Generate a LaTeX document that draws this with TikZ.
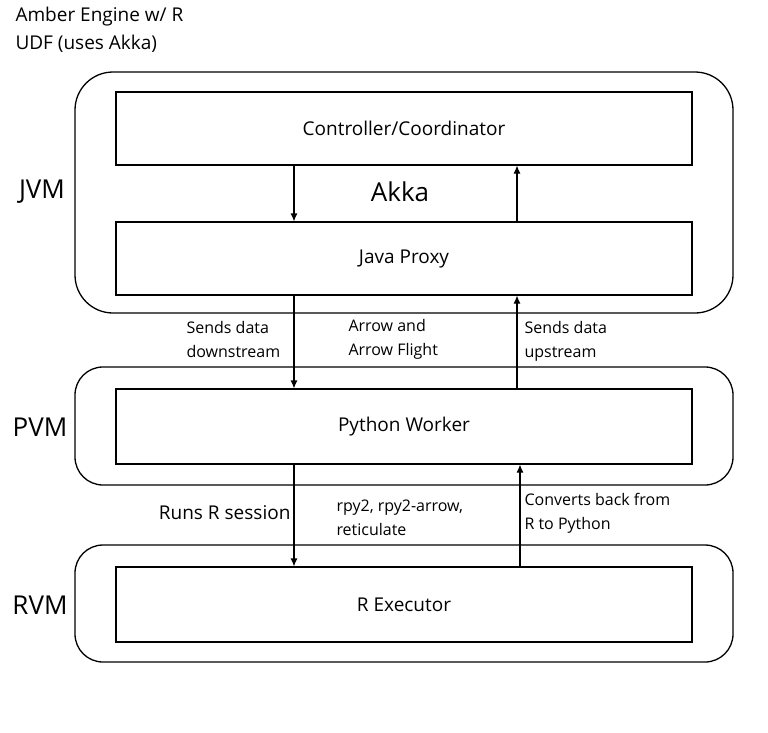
\documentclass[tikz,border=0pt]{standalone}
\usepackage{fontspec}
\setmainfont{Open Sans}
\usetikzlibrary{arrows.meta}
\begin{document}
\begin{tikzpicture}[x=1pt,y=-1pt,
  vm/.style={draw,line width=1.3pt,rounded corners=#1,minimum width=658pt,inner sep=0pt},
  vm/.default={28pt},
  unit/.style={draw,line width=1.1pt,minimum width=576pt,inner sep=0pt,font=\fontsize{19}{22}\selectfont},
  vmlabel/.style={font=\fontsize{26}{30}\selectfont},
  note/.style={align=left,font=\fontsize{16}{24}\selectfont,anchor=west},
  arr/.style={line width=1.1pt,-{Latex[length=8pt,width=7pt]}}]

\useasboundingbox (0,0) rectangle (768,732);

\node[anchor=north west,align=left,font=\fontsize{19}{28}\selectfont] (title) at (12,4) {Amber Engine w/ R\\UDF (uses Akka)};

% virtual machines
\node[vm=38pt,minimum height=241pt] (jvm) at (404,192.5) {};
\node[vm,minimum height=118pt] (pvm) at (404,426) {};
\node[vm,minimum height=117pt] (rvm) at (404,603.5) {};

\node[vmlabel] (jvmlbl) at (42,192) {JVM};
\node[vmlabel] (pvmlbl) at (40,427) {PVM};
\node[vmlabel] (rvmlbl) at (40,605) {RVM};

% units
\node[unit,minimum height=73pt] (ctrl) at (404,128.5) {Controller/Coordinator};
\node[unit,minimum height=73pt] (proxy) at (404,258.5) {Java Proxy};
\node[unit,minimum height=75pt] (worker) at (404,426.5) {Python Worker};
\node[unit,minimum height=75pt] (rexec) at (404,604.5) {R Executor};

\node[vmlabel] (akka) at (400,192) {Akka};

% connectors
\draw[arr] (ctrl.south -| 294,0) -- (proxy.north -| 294,0);
\draw[arr] (proxy.north -| 517,0) -- (ctrl.south -| 517,0);
\draw[arr] (proxy.south -| 294,0) -- (worker.north -| 294,0);
\draw[arr] (worker.north -| 517,0) -- (proxy.south -| 517,0);
\draw[arr] (worker.south -| 294,0) -- (rexec.north -| 294,0);
\draw[arr] (rexec.north -| 520,0) -- (worker.south -| 520,0);

% labels
\node[note] (down) at (183,339) {Sends data\\downstream};
\node[note] (flight) at (345,339) {Arrow and\\Arrow Flight};
\node[note] (up) at (521,341) {Sends data\\upstream};
\node[anchor=east,font=\fontsize{19}{22}\selectfont] (runs) at (294,513) {Runs R session};
\node[note] (rpy) at (333,518) {rpy2, rpy2-arrow,\\reticulate};
\node[note] (conv) at (521,513) {Converts back from\\R to Python};

\end{tikzpicture}
\end{document}
